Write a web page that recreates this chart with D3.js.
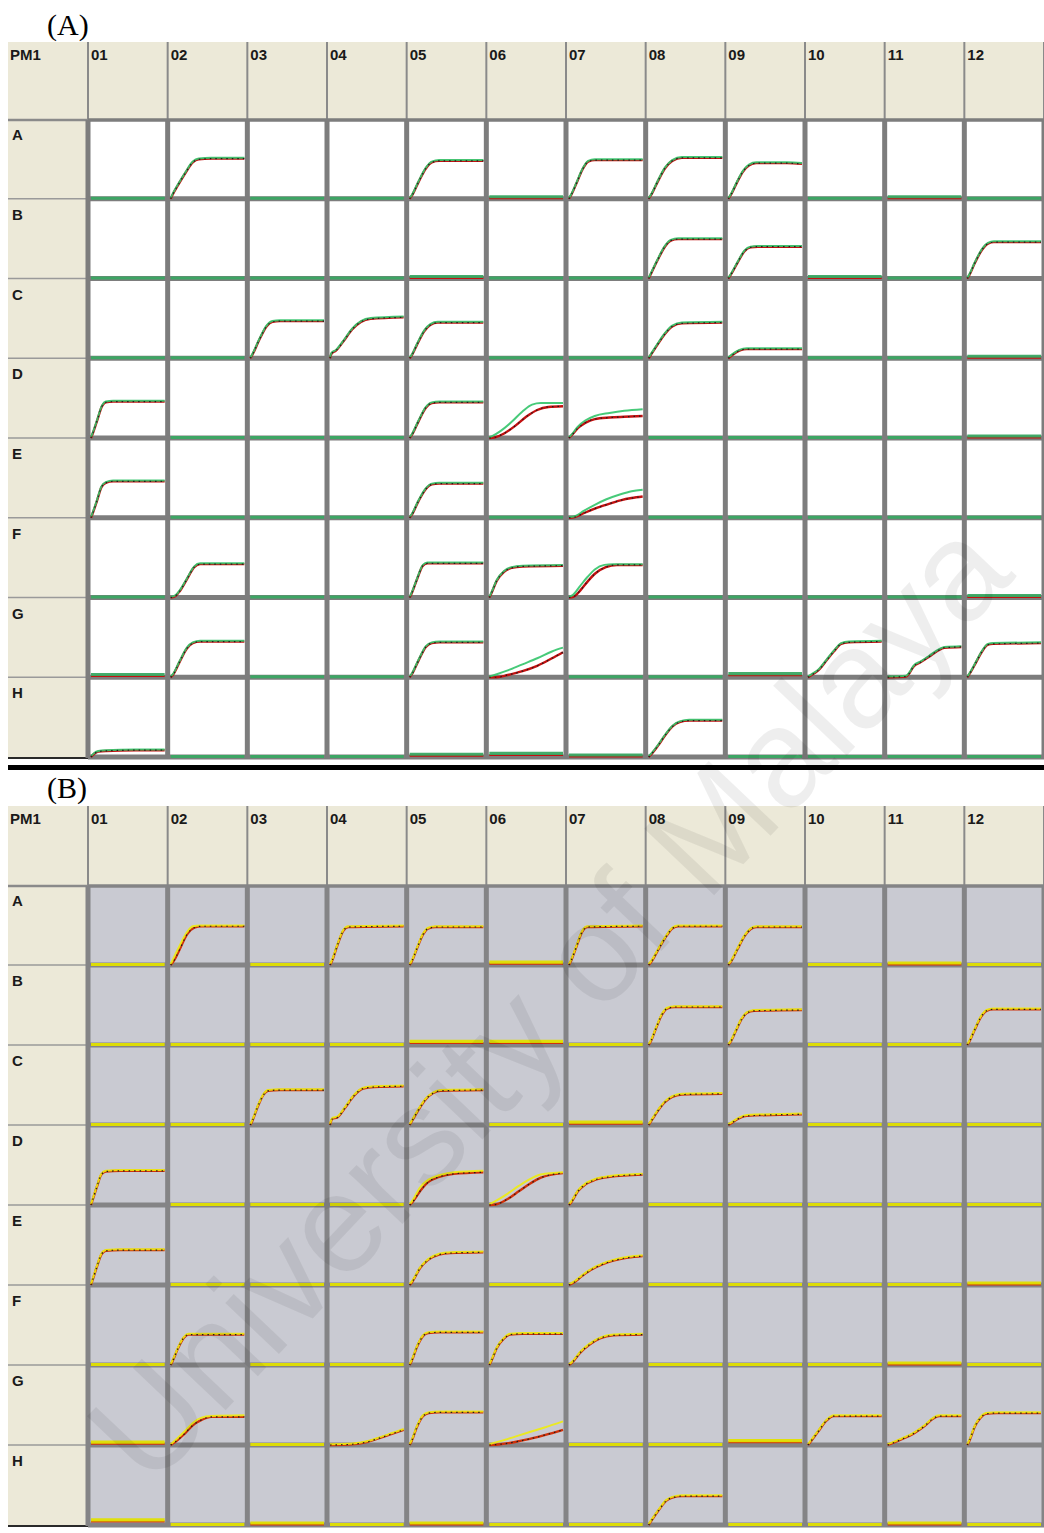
<!DOCTYPE html>
<meta charset="utf-8">
<style>
body { margin: 0; background: #fff; }
.hdr { font-family: "Liberation Sans", Arial, sans-serif; font-weight: bold; font-size: 15px; fill: #1a1a1a; }
.plabel { font-family: "Liberation Serif", "Times New Roman", serif; font-size: 30px; fill: #000; }
.wm { font-family: "Liberation Sans", Arial, sans-serif; font-size: 140px; fill: #000; fill-opacity: 0.065; }
</style>
<svg width="1044" height="1533"></svg>
<script src="https://d3js.org/d3.v7.min.js"></script>
<script>
var svg = d3.select("svg"),
    width = +svg.attr("width"),
    height = +svg.attr("height");

// plate layout
var cols = ["01","02","03","04","05","06","07","08","09","10","11","12"];
var rows = ["A","B","C","D","E","F","G","H"];
var panelNames = ["(A)", "(B)"];

// kinetic curves, time 0-100, signal 0-100 (% of cell height)
// [well, bright series, dark series (if different)]
var aCurves = [
  ["A02", [[0,0],[3,6],[10,18],[20,34],[30,48],[38,52],[55,53],[100,53]]],
  ["A05", [[0,0],[3,4],[12,22],[22,40],[30,48],[40,50],[100,50]]],
  ["A07", [[0,0],[3,5],[10,20],[18,38],[26,49],[35,51],[100,51]]],
  ["A08", [[0,0],[4,6],[12,22],[22,40],[32,50],[45,54],[100,54]]],
  ["A09", [[0,0],[4,6],[12,22],[20,36],[28,44],[38,47],[80,47],[100,46]]],
  ["B08", [[0,0],[4,8],[12,24],[22,42],[30,50],[40,52],[100,52]]],
  ["B09", [[0,0],[4,6],[12,20],[22,36],[30,41],[40,42],[100,42]]],
  ["B12", [[0,0],[3,5],[10,20],[20,38],[28,46],[36,48],[100,48]]],
  ["C03", [[0,0],[3,5],[12,24],[22,42],[30,48],[40,49],[100,49]]],
  ["C04", [[0,0],[2,6],[8,10],[18,22],[30,38],[42,48],[55,52],[100,54]]],
  ["C05", [[0,0],[3,4],[10,18],[20,36],[28,44],[38,47],[100,47]]],
  ["C08", [[0,0],[4,6],[12,18],[22,32],[32,42],[45,46],[100,47]]],
  ["C09", [[0,0],[5,4],[15,10],[25,12],[100,12]]],
  ["D01", [[0,0],[2,5],[8,22],[15,42],[20,47],[30,48],[100,48]]],
  ["D05", [[0,0],[3,4],[12,22],[22,40],[30,46],[40,47],[100,47]]],
  ["D06", [[0,0],[5,2],[15,8],[30,20],[45,34],[58,43],[70,45],[100,45]],
          [[0,0],[8,1],[20,6],[35,16],[50,28],[65,37],[80,41],[100,42]]],
  ["D07", [[0,0],[4,4],[12,14],[22,22],[35,28],[55,32],[75,35],[100,37]],
          [[0,0],[4,4],[12,13],[22,20],[35,25],[55,27],[75,28],[100,29]]],
  ["E01", [[0,0],[2,5],[8,22],[14,40],[20,46],[30,48],[100,48]]],
  ["E05", [[0,0],[3,4],[12,22],[22,38],[30,44],[40,45],[100,45]]],
  ["E07", [[0,0],[8,1],[20,8],[35,16],[50,23],[70,30],[85,34],[100,36]],
          [[0,0],[8,1],[20,6],[35,12],[50,17],[70,23],[85,26],[100,28]]],
  ["F02", [[0,0],[5,1],[12,8],[22,24],[32,40],[40,44],[100,44]]],
  ["F05", [[0,0],[3,6],[10,24],[18,42],[24,45],[100,45]]],
  ["F06", [[0,0],[3,6],[10,22],[20,34],[30,39],[45,41],[100,42]]],
  ["F07", [[0,0],[5,2],[15,14],[25,26],[35,36],[48,42],[60,43],[100,43]],
          [[0,0],[6,1],[16,10],[26,22],[36,32],[50,40],[65,43],[100,43]]],
  ["G02", [[0,0],[3,3],[12,20],[22,38],[30,45],[40,47],[100,47]]],
  ["G05", [[0,0],[3,4],[12,22],[22,40],[30,45],[40,46],[100,46]]],
  ["G06", [[0,0],[10,3],[25,8],[45,16],[65,24],[85,33],[100,38]],
          [[0,0],[10,0],[25,3],[45,8],[65,15],[85,25],[100,33]]],
  ["G10", [[0,0],[5,3],[15,10],[25,22],[35,34],[45,44],[55,46],[100,47]]],
  ["G11", [[0,0],[25,1],[30,6],[35,14],[45,20],[56,27],[68,35],[77,39],[100,40]]],
  ["G12", [[0,0],[4,6],[12,20],[20,34],[28,43],[35,44],[100,45]]],
  ["H01", [[0,0],[4,4],[10,7],[20,8],[60,9],[100,9]]],
  ["H08", [[0,0],[4,4],[12,14],[22,28],[32,40],[42,46],[55,48],[100,48]]]
];
// flat wells that sit slightly above zero
var aFlat = [["A06",2],["A11",2],["B05",2],["B10",2],["C12",2],["D12",2],["F12",2],
             ["G01",3],["G09",4],["H05",3],["H06",4],["H07",2]];

var bCurves = [
  ["A02", [[0,0],[4,8],[12,24],[22,42],[30,50],[40,51],[100,51]],
          [[0,0],[4,5],[12,20],[22,40],[32,49],[42,51],[100,51]]],
  ["A04", [[0,0],[3,6],[10,26],[18,45],[25,50],[100,51]]],
  ["A05", [[0,0],[3,5],[10,22],[18,40],[25,48],[35,50],[100,50]]],
  ["A07", [[0,0],[3,6],[10,24],[18,44],[25,50],[100,51]]],
  ["A08", [[0,0],[4,5],[14,22],[24,38],[32,48],[40,51],[100,51]]],
  ["A09", [[0,0],[4,5],[12,20],[22,38],[30,47],[38,50],[100,50]]],
  ["B08", [[0,0],[3,5],[10,22],[18,40],[25,48],[35,50],[100,50]]],
  ["B09", [[0,0],[3,4],[10,18],[18,34],[25,42],[35,45],[100,46]]],
  ["B12", [[0,0],[3,5],[10,20],[18,36],[26,45],[35,47],[100,47]]],
  ["C03", [[0,0],[3,6],[10,24],[18,40],[24,45],[40,46],[100,46]]],
  ["C04", [[0,0],[3,8],[10,10],[20,22],[32,38],[45,48],[60,50],[100,51]]],
  ["C05", [[0,0],[3,5],[12,20],[22,34],[32,42],[42,45],[100,46]]],
  ["C08", [[0,0],[4,6],[12,18],[22,30],[32,37],[45,40],[100,41]]],
  ["C09", [[0,0],[5,3],[15,9],[25,12],[100,14]]],
  ["D01", [[0,0],[2,6],[8,24],[14,40],[20,44],[40,45],[100,45]]],
  ["D05", [[0,0],[4,5],[14,22],[25,32],[40,38],[60,42],[100,44]],
          [[0,0],[4,4],[14,18],[25,30],[40,37],[60,41],[100,43]]],
  ["D06", [[0,0],[10,5],[25,14],[40,24],[55,33],[70,39],[100,42]],
          [[0,0],[10,1],[25,8],[40,18],[55,28],[70,36],[100,42]]],
  ["D07", [[0,0],[4,5],[12,18],[22,27],[35,33],[55,37],[100,40]]],
  ["E01", [[0,0],[2,6],[8,24],[14,40],[20,45],[40,46],[100,46]]],
  ["E05", [[0,0],[4,5],[14,22],[25,33],[40,40],[55,42],[100,43]]],
  ["E07", [[0,0],[6,3],[18,12],[30,20],[45,27],[60,32],[80,36],[100,38]]],
  ["F02", [[0,0],[3,6],[10,22],[18,36],[24,40],[40,40],[100,40]]],
  ["F05", [[0,0],[3,6],[10,24],[18,38],[25,42],[40,43],[100,43]]],
  ["F06", [[0,0],[3,6],[10,22],[20,35],[28,40],[45,41],[100,41]]],
  ["F07", [[0,0],[5,4],[15,16],[28,27],[42,35],[60,39],[100,40]]],
  ["G02", [[0,0],[6,5],[18,16],[30,28],[42,35],[55,37],[100,38]],
          [[0,0],[6,4],[18,14],[30,26],[42,33],[55,37],[100,37]]],
  ["G04", [[0,0],[30,1],[50,4],[70,10],[85,15],[100,20]]],
  ["G05", [[0,0],[3,6],[10,24],[18,38],[26,42],[40,43],[100,43]]],
  ["G06", [[0,0],[15,4],[35,10],[55,16],[75,22],[100,30]],
          [[0,0],[15,1],[35,4],[55,8],[75,13],[100,20]]],
  ["G10", [[0,0],[4,5],[14,18],[25,32],[35,38],[60,38],[100,38]]],
  ["G11", [[0,0],[8,3],[20,8],[35,15],[50,25],[62,35],[70,38],[100,38]]],
  ["G12", [[0,0],[3,6],[10,24],[18,36],[25,41],[40,42],[100,42]]],
  ["H08", [[0,0],[4,6],[14,20],[24,32],[32,36],[45,38],[100,38]]]
];
var bFlat = [["A06",3],["A11",2],["B05",4],["B06",4],["C07",3],["E12",2],["F11",2],
             ["G01",3],["G09",5],["H01",6],["H03",2],["H05",2],["H11",2]];

var panels = [
  {name: panelNames[0], labelY: 35, top: 42, rowsTop: 120, rowH: 79.75,
   cellFill: "#ffffff", grid: "#7d7d7d", bright: "#33c46a", base: "#3aa863", dark: "#c41010",
   curves: aCurves, flat: aFlat},
  {name: panelNames[1], labelY: 798, top: 806, rowsTop: 886, rowH: 80,
   cellFill: "#c9cad2", grid: "#848486", bright: "#eeec10", base: "#e2e000", dark: "#d0300a",
   curves: bCurves, flat: bFlat}
];

var x = d3.scaleLinear().domain([0, 12]).range([88, 1044]);
var line = d3.line().curve(d3.curveMonotoneX);

panels.forEach(function(p) {
  var g = svg.append("g");
  var y = d3.scaleLinear().domain([0, 8]).range([p.rowsTop, p.rowsTop + 8 * p.rowH]);
  var bottom = y(8);

  g.append("text").attr("class", "plabel").attr("x", 47).attr("y", p.labelY).text(p.name);

  // header strip and row label column
  g.append("rect").attr("x", 8).attr("y", p.top).attr("width", width - 8)
    .attr("height", p.rowsTop - p.top).attr("fill", "#ece9d8");
  g.append("rect").attr("x", 8).attr("y", p.rowsTop).attr("width", 80)
    .attr("height", bottom - p.rowsTop).attr("fill", "#ece9d8");

  // data cells
  g.append("rect").attr("x", x(0)).attr("y", p.rowsTop).attr("width", width - x(0))
    .attr("height", bottom - p.rowsTop).attr("fill", p.cellFill);

  // thin header lines
  d3.range(13).forEach(function(i) {
    g.append("line").attr("x1", x(i)).attr("x2", x(i)).attr("y1", p.top).attr("y2", p.rowsTop)
      .attr("stroke", "#8a8a8a").attr("stroke-width", 2);
  });
  d3.range(1, 8).forEach(function(j) {
    g.append("line").attr("x1", 8).attr("x2", x(0)).attr("y1", y(j) - 1).attr("y2", y(j) - 1)
      .attr("stroke", "#9a9a9a").attr("stroke-width", 1.5);
  });
  g.append("line").attr("x1", 8).attr("x2", x(0)).attr("y1", p.rowsTop).attr("y2", p.rowsTop)
    .attr("stroke", "#8a8a8a").attr("stroke-width", 2.5);
  g.append("line").attr("x1", 8).attr("x2", x(0)).attr("y1", bottom).attr("y2", bottom)
    .attr("stroke", "#2a2a2a").attr("stroke-width", 2);

  // thick data grid
  d3.range(13).forEach(function(i) {
    g.append("line").attr("x1", x(i)).attr("x2", x(i)).attr("y1", p.rowsTop).attr("y2", bottom)
      .attr("stroke", p.grid).attr("stroke-width", 5);
  });
  d3.range(1, 9).forEach(function(j) {
    g.append("line").attr("x1", x(0)).attr("x2", width).attr("y1", y(j) - 1).attr("y2", y(j) - 1)
      .attr("stroke", p.grid).attr("stroke-width", 5);
  });
  g.append("line").attr("x1", x(0)).attr("x2", width).attr("y1", p.rowsTop).attr("y2", p.rowsTop)
    .attr("stroke", p.grid).attr("stroke-width", 3.5);

  // labels
  g.append("text").attr("class", "hdr").attr("x", 10).attr("y", p.top + 18).text("PM1");
  cols.forEach(function(c, i) {
    g.append("text").attr("class", "hdr").attr("x", x(i) + 3).attr("y", p.top + 18).text(c);
  });
  rows.forEach(function(r, j) {
    g.append("text").attr("class", "hdr").attr("x", 12).attr("y", y(j) + 20).text(r);
  });

  // traces
  var curveMap = new Map(p.curves.map(function(d) { return [d[0], d]; }));
  var flatMap = new Map(p.flat);
  var tr = g.append("g");
  rows.forEach(function(r, j) {
    cols.forEach(function(c, i) {
      var well = r + c;
      var t = d3.scaleLinear().domain([0, 100]).range([x(i) + 3, x(i + 1) - 3]);
      var v = d3.scaleLinear().domain([0, 100]).range([y(j + 1) - 1, y(j) + 3]);
      line.x(function(d) { return t(d[0]); }).y(function(d) { return v(d[1]); });
      var rec = curveMap.get(well);
      if (rec) {
        var brightPts = rec[1], darkPts = rec[2] || rec[1];
        tr.append("path").attr("d", line(darkPts)).attr("fill", "none")
          .attr("stroke", p.dark).attr("stroke-width", 2.4);
        tr.append("path").attr("d", line(brightPts)).attr("fill", "none")
          .attr("stroke", p.bright).attr("stroke-width", 2).attr("stroke-opacity", 0.9)
          .attr("transform", "translate(0,-0.8)");
        tr.append("path").attr("d", line(darkPts)).attr("fill", "none")
          .attr("stroke", "#1e1e1e").attr("stroke-width", 1.2).attr("stroke-dasharray", "1.5,4");
      } else {
        var lvl = flatMap.get(well) || 0;
        var pts = [[0, lvl], [100, lvl]];
        if (lvl > 0) {
          tr.append("path").attr("d", line(pts)).attr("fill", "none")
            .attr("stroke", p.dark).attr("stroke-width", 2).attr("transform", "translate(0,1)");
        }
        tr.append("path").attr("d", line(pts)).attr("fill", "none")
          .attr("stroke", p.base).attr("stroke-width", 3.2).attr("stroke-opacity", 0.95)
          .attr("transform", "translate(0,-0.5)");
      }
    });
  });
});

// separator between the two panels
svg.append("rect").attr("x", 8).attr("y", 765).attr("width", width - 8).attr("height", 5).attr("fill", "#000");

// watermark
svg.append("text").attr("class", "wm")
  .attr("text-anchor", "middle").attr("dominant-baseline", "central")
  .attr("transform", "translate(548,1000) rotate(-46.5)")
  .text("University of Malaya");
</script>
